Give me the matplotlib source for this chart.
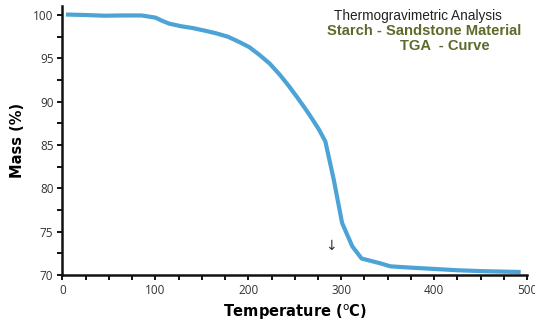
import matplotlib
matplotlib.use("Agg")
import matplotlib.pyplot as plt
from matplotlib.ticker import MultipleLocator

# TGA curve
temp = [6, 25, 45, 65, 85, 100, 108, 115, 128, 140, 153, 165, 178, 190,
        201, 212, 223, 234, 243, 252, 260, 267, 276, 283, 292, 301, 312,
        322, 342, 353, 375, 400, 425, 450, 470, 491]
mass = [100.05, 100.0, 99.92, 99.95, 99.95, 99.7, 99.3, 99.0, 98.7, 98.5,
        98.2, 97.9, 97.5, 96.9, 96.3, 95.4, 94.4, 93.1, 91.9, 90.6, 89.4,
        88.3, 86.8, 85.4, 81.0, 76.0, 73.3, 71.9, 71.35, 71.0, 70.85, 70.7,
        70.55, 70.45, 70.4, 70.35]

x_ticks = [0, 100, 200, 300, 400, 500]
y_ticks = [70, 75, 80, 85, 90, 95, 100]

fig = plt.figure(figsize=(5.35, 3.23), dpi=100)
ax = fig.add_axes([0.1168, 0.1486, 0.8682, 0.8328])

ax.plot(temp, mass, color="#4ba3d6", lw=3.0, solid_joinstyle="round")

ax.set_xlim(0, 500)
ax.set_ylim(70, 101.04)
ax.set_xticks(x_ticks)
ax.set_yticks(y_ticks)
ax.xaxis.set_minor_locator(MultipleLocator(25))
ax.yaxis.set_minor_locator(MultipleLocator(2.5))

for s in ["top", "right"]:
    ax.spines[s].set_visible(False)
for s in ["left", "bottom"]:
    ax.spines[s].set_linewidth(1.8)
    ax.spines[s].set_color("#111111")

ax.tick_params(which="both", direction="out", length=3.5, width=1.4,
               color="#111111", labelsize=8.5, labelcolor="#333333", pad=3)
for lab in ax.get_xticklabels() + ax.get_yticklabels():
    lab.set_family("Open Sans")

ax.set_xlabel("Temperature ($^{\\mathrm{o}}$C)", fontsize=10.5,
              fontweight="bold", family="DejaVu Sans", labelpad=4)
ax.set_ylabel("Mass (%)", fontsize=10.5, fontweight="bold",
              family="DejaVu Sans", labelpad=6)

# arrow marker near the decomposition step
ax.text(289.5, 73.3, "\u2193", ha="center", va="center", fontsize=10,
        color="#333333")

# title block
fig.text(0.781, 0.950, "Thermogravimetric Analysis", ha="center",
         va="center", fontsize=9.8, color="#222222", family="Liberation Sans")
fig.text(0.793, 0.904, "Starch - Sandstone Material", ha="center",
         va="center", fontsize=10.6, fontweight="bold", color="#5c6a2c",
         family="Liberation Sans")
fig.text(0.832, 0.858, "TGA  - Curve", ha="center", va="center",
         fontsize=10.6, fontweight="bold", color="#5c6a2c",
         family="Liberation Sans")

fig.savefig("out.png", dpi=100)
